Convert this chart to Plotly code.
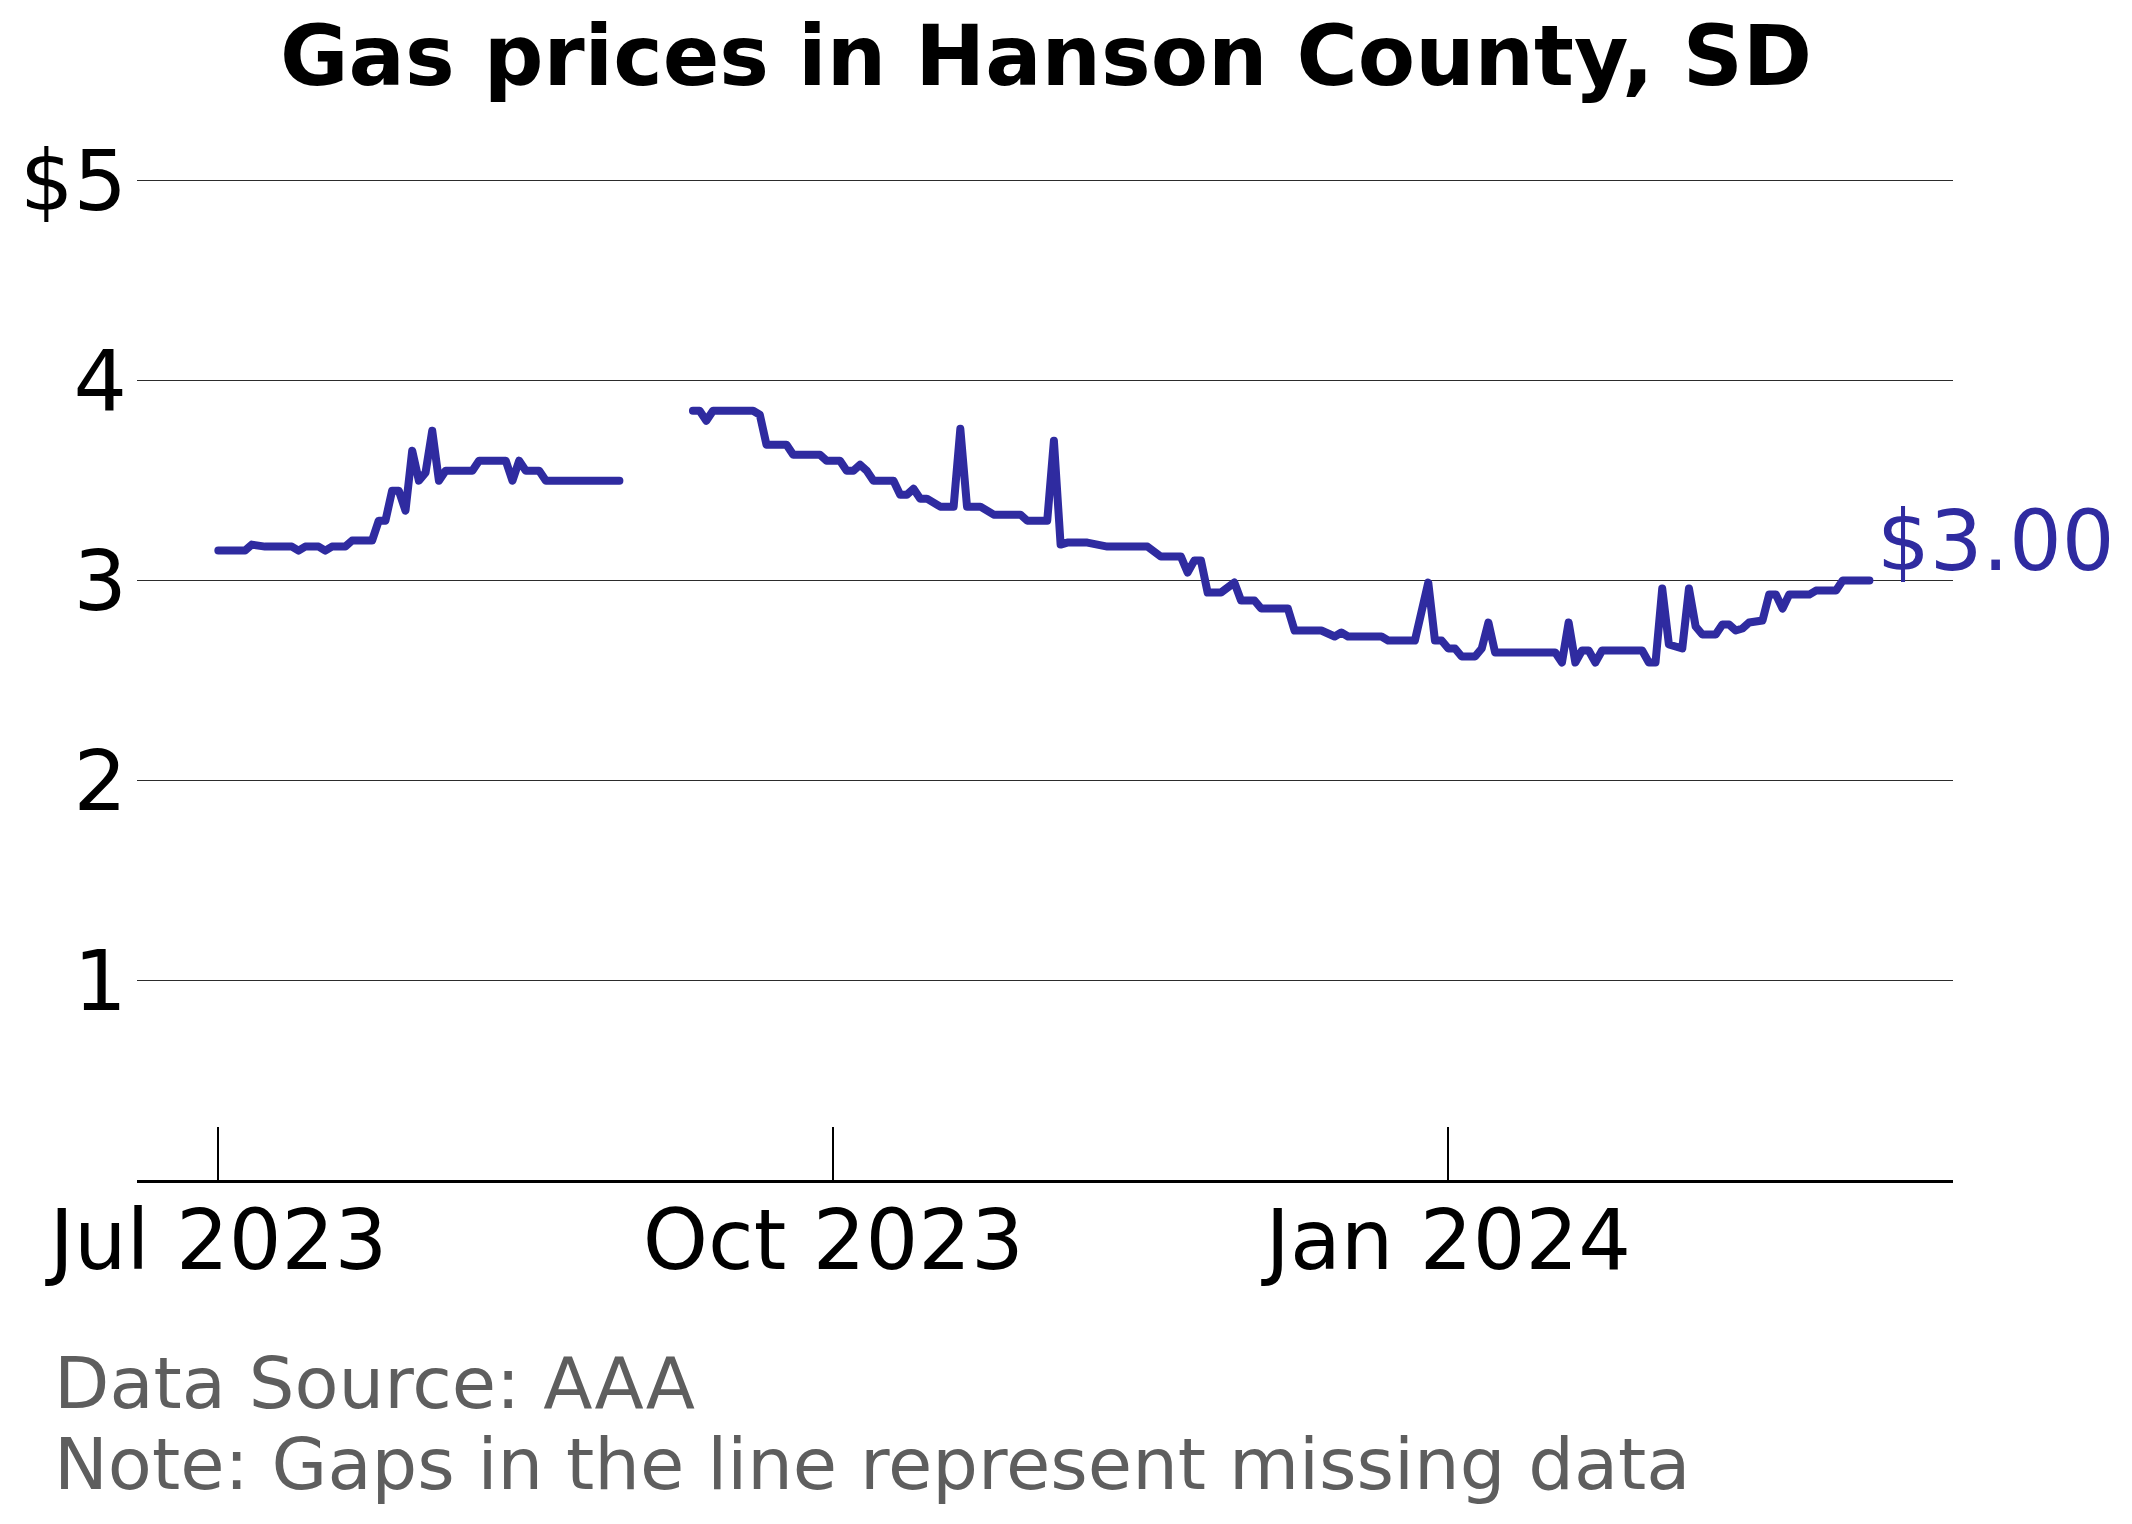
import plotly.graph_objects as go

# ---- data ----
dates = [
    "2023-07-01", "2023-07-05", "2023-07-06", "2023-07-08", "2023-07-12", "2023-07-13",
    "2023-07-14", "2023-07-16", "2023-07-17", "2023-07-18", "2023-07-20", "2023-07-21",
    "2023-07-24", "2023-07-25", "2023-07-26", "2023-07-27", "2023-07-28", "2023-07-29",
    "2023-07-30", "2023-07-31", "2023-08-01", "2023-08-02", "2023-08-03", "2023-08-04",
    "2023-08-08", "2023-08-09", "2023-08-13", "2023-08-14", "2023-08-15", "2023-08-16",
    "2023-08-18", "2023-08-19", "2023-08-30",
    "2023-09-04",
    "2023-09-10", "2023-09-11", "2023-09-12", "2023-09-13", "2023-09-19", "2023-09-20",
    "2023-09-21", "2023-09-24", "2023-09-25", "2023-09-29", "2023-09-30", "2023-10-02",
    "2023-10-03", "2023-10-04", "2023-10-05", "2023-10-06", "2023-10-07", "2023-10-10",
    "2023-10-11", "2023-10-12", "2023-10-13", "2023-10-14", "2023-10-15", "2023-10-17",
    "2023-10-19", "2023-10-20", "2023-10-21", "2023-10-23", "2023-10-25", "2023-10-29",
    "2023-10-30", "2023-11-02", "2023-11-03", "2023-11-04", "2023-11-05", "2023-11-08",
    "2023-11-11", "2023-11-17", "2023-11-19", "2023-11-22", "2023-11-23", "2023-11-24",
    "2023-11-25", "2023-11-26", "2023-11-28", "2023-11-30", "2023-12-01", "2023-12-03",
    "2023-12-04", "2023-12-08", "2023-12-09", "2023-12-13", "2023-12-15", "2023-12-16",
    "2023-12-17", "2023-12-22", "2023-12-23", "2023-12-27", "2023-12-29", "2023-12-30",
    "2023-12-31", "2024-01-01", "2024-01-02", "2024-01-03", "2024-01-05", "2024-01-06",
    "2024-01-07", "2024-01-08", "2024-01-17", "2024-01-18", "2024-01-19", "2024-01-20",
    "2024-01-21", "2024-01-22", "2024-01-23", "2024-01-24", "2024-01-30", "2024-01-31",
    "2024-02-01", "2024-02-02", "2024-02-03", "2024-02-05", "2024-02-06", "2024-02-07",
    "2024-02-08", "2024-02-10", "2024-02-11", "2024-02-12", "2024-02-13", "2024-02-14",
    "2024-02-15", "2024-02-17", "2024-02-18", "2024-02-19", "2024-02-20", "2024-02-21",
    "2024-02-24", "2024-02-25", "2024-02-28", "2024-02-29", "2024-03-04",
]
prices = [
    3.15, 3.15, 3.18, 3.17, 3.17, 3.15,
    3.17, 3.17, 3.15, 3.17, 3.17, 3.20,
    3.20, 3.30, 3.30, 3.45, 3.45, 3.35,
    3.65, 3.50, 3.54, 3.75, 3.50, 3.55,
    3.55, 3.60, 3.60, 3.50, 3.60, 3.55,
    3.55, 3.50, 3.50,
    None,
    3.85, 3.85, 3.80, 3.85, 3.85, 3.83,
    3.68, 3.68, 3.63, 3.63, 3.60, 3.60,
    3.55, 3.55, 3.58, 3.55, 3.50, 3.50,
    3.43, 3.43, 3.46, 3.41, 3.41, 3.37,
    3.37, 3.76, 3.37, 3.37, 3.33, 3.33,
    3.30, 3.30, 3.70, 3.18, 3.19, 3.19,
    3.17, 3.17, 3.12, 3.12, 3.04, 3.10,
    3.10, 2.94, 2.94, 2.99, 2.90, 2.90,
    2.86, 2.86, 2.75, 2.75, 2.72, 2.74,
    2.72, 2.72, 2.70, 2.70, 2.99, 2.70,
    2.70, 2.66, 2.66, 2.62, 2.62, 2.66,
    2.79, 2.64, 2.64, 2.59, 2.79, 2.59,
    2.65, 2.65, 2.59, 2.65, 2.65, 2.59,
    2.59, 2.96, 2.68, 2.66, 2.96, 2.77,
    2.73, 2.73, 2.78, 2.78, 2.75, 2.76,
    2.79, 2.80, 2.93, 2.93, 2.86, 2.93,
    2.93, 2.95, 2.95, 3.00, 3.00,
]

x_tick_vals = ["2023-07-01", "2023-10-01", "2024-01-01"]
x_tick_text = ["Jul 2023", "Oct 2023", "Jan 2024"]
y_tick_vals = [1, 2, 3, 4, 5]
y_tick_text = ["1", "2", "3", "4", "$5"]

title_text = "Gas prices in Hanson County, SD"
note_lines = ["Data Source: AAA", "Note: Gaps in the line represent missing data"]
last_label = "$3.00"

LINE_COLOR = "#2f2ba0"
FONT = "DejaVu Sans"

fig = go.Figure()
fig.add_trace(go.Scatter(
    x=dates, y=prices, mode="lines", connectgaps=False,
    line=dict(color=LINE_COLOR, width=8), hoverinfo="skip", showlegend=False,
))

W, H = 2132, 1524
L, R, T, B = 137, 179, 131, 344

fig.update_layout(
    width=W, height=H,
    margin=dict(l=L, r=R, t=T, b=B, pad=0),
    paper_bgcolor="white", plot_bgcolor="white",
    font=dict(family=FONT, color="black"),
    showlegend=False,
)
fig.update_xaxes(
    type="date",
    range=["2023-06-18 20:00", "2024-03-16 12:00"],
    tickmode="array", tickvals=x_tick_vals, ticktext=x_tick_text,
    ticks="inside", ticklen=53, tickwidth=2, tickcolor="black",
    tickfont=dict(size=83, family=FONT, color="black"),
    showline=True, linecolor="black", linewidth=3,
    showgrid=False, zeroline=False,
    ticklabelstandoff=-14,
)
fig.update_yaxes(
    range=[0, 5.25],
    tickmode="array", tickvals=y_tick_vals, ticktext=y_tick_text,
    ticks="", showline=False, zeroline=False,
    showgrid=True, gridcolor="#2c2c2c", gridwidth=1.4,
    tickfont=dict(size=84, family=FONT, color="black"),
    ticklabelstandoff=9,
)

plot_h = H - T - B
plot_w = W - L - R

def py(pix_y):
    return (H - B - pix_y) / plot_h

def px(pix_x):
    return (pix_x - L) / plot_w

fig.add_annotation(
    text="<b>" + title_text + "</b>", xref="paper", yref="paper",
    x=px(1046), y=py(56), xanchor="center", yanchor="middle",
    showarrow=False, font=dict(size=83.5, family=FONT, color="black"),
)
for line, yc in zip(note_lines, [1383, 1464]):
    fig.add_annotation(
        text=line, xref="paper", yref="paper",
        x=px(52), y=py(yc), xanchor="left", yanchor="middle",
        showarrow=False, font=dict(size=72, family=FONT, color="#5e5e5e"),
    )
fig.add_annotation(
    text=last_label, x=dates[-1], y=prices[-1], xref="x", yref="y",
    xanchor="left", yanchor="middle", xshift=6, yshift=39,
    showarrow=False, font=dict(size=83, family=FONT, color=LINE_COLOR),
)

post = (
    "document.body.style.margin='0px';"
    "document.querySelectorAll('.scatterlayer path.js-line').forEach(function(p){"
    "p.style.strokeLinecap='round';p.style.strokeLinejoin='round';});"
)
fig.write_html("out.html", post_script=post, config={"displayModeBar": False})
